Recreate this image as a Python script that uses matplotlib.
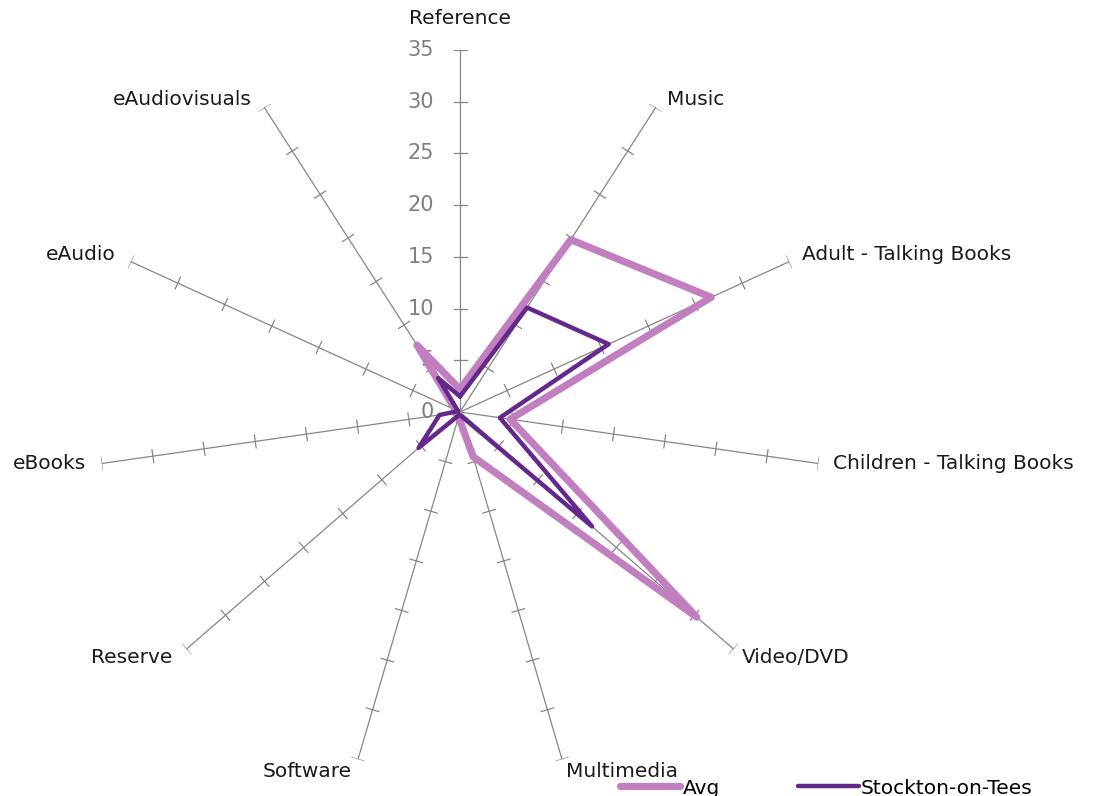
import matplotlib
matplotlib.use('Agg')
import matplotlib.pyplot as plt
import numpy as np

categories = ['Reference', 'Music', 'Adult - Talking Books', 'Children - Talking Books',
              'Video/DVD', 'Multimedia', 'Software', 'Reserve', 'eBooks', 'eAudio',
              'eAudiovisuals']
avg = [2.2, 19.8, 26.7, 4.9, 30.3, 4.5, 0.5, 0.3, 0.5, 0.5, 7.7]
stockton = [1.5, 12.0, 15.8, 3.9, 16.9, 0.4, 0.3, 5.3, 2.0, 0.2, 3.9]
radial_ticks = [0, 5, 10, 15, 20, 25, 30, 35]

avg_color = '#C17FC0'
stockton_color = '#64288C'
grid_color = '#868686'

n = len(categories)
angles = np.arange(n) * 2 * np.pi / n
rmax = 35

fig = plt.figure(figsize=(10.94, 7.96), dpi=100)
# centre at (460, 412) px, radius 362 px
ax = fig.add_axes([98 / 1094, 22 / 796, 724 / 1094, 724 / 796], projection='polar')
ax.set_theta_zero_location('N')
ax.set_theta_direction(-1)
ax.set_ylim(0, rmax)
ax.grid(False)
ax.set_xticks([])
ax.set_yticks([])
ax.spines['polar'].set_visible(False)
ax.patch.set_visible(False)

# spokes with perpendicular tick marks
h = 6.5 * rmax / 362
for a in angles:
    ax.plot([a, a], [0, rmax], color=grid_color, lw=0.9, zorder=1)
    for r in radial_ticks[1:]:
        d = np.arctan(h / r)
        rr = np.hypot(r, h)
        ax.plot([a - d, a + d], [rr, rr], color=grid_color, lw=0.9, zorder=1)

# radial labels
for r in radial_ticks:
    ax.annotate(str(r), xy=(0, r), xytext=(-26, 0), textcoords='offset pixels',
                ha='right', va='center', fontsize=15, color='#7F7F7F', zorder=2)

# category labels
offsets = [(0, 31, 'center'), (11, 8, 'left'), (13, 7, 'left'), (15, 0, 'left'),
           (8, -8, 'left'), (4, -12, 'left'), (-6, -12, 'right'), (-14, -8, 'right'),
           (-16, 0, 'right'), (-15, 7, 'right'), (-13, 8, 'right')]
for a, name, (dx, dy, ha) in zip(angles, categories, offsets):
    ax.annotate(name, xy=(a, rmax), xytext=(dx, dy), textcoords='offset pixels',
                ha=ha, va='center', fontsize=14.5, color='#1a1a1a', annotation_clip=False)

ta = np.append(angles, angles[0])
ax.plot(ta, avg + avg[:1], color=avg_color, lw=5.2, solid_joinstyle='round',
        solid_capstyle='round', label='Avg', zorder=3, clip_on=False)
ax.plot(ta, stockton + stockton[:1], color=stockton_color, lw=3.2, solid_joinstyle='round',
        solid_capstyle='round', label='Stockton-on-Tees', zorder=4, clip_on=False)

fig.legend(loc='center left', bbox_to_anchor=(620 / 1094, 1 - 788 / 796), ncol=2,
           frameon=False, fontsize=14.5, handlelength=3.0, handletextpad=0.1,
           columnspacing=3.9, borderpad=0, borderaxespad=0)

fig.savefig('out.png', dpi=100)
